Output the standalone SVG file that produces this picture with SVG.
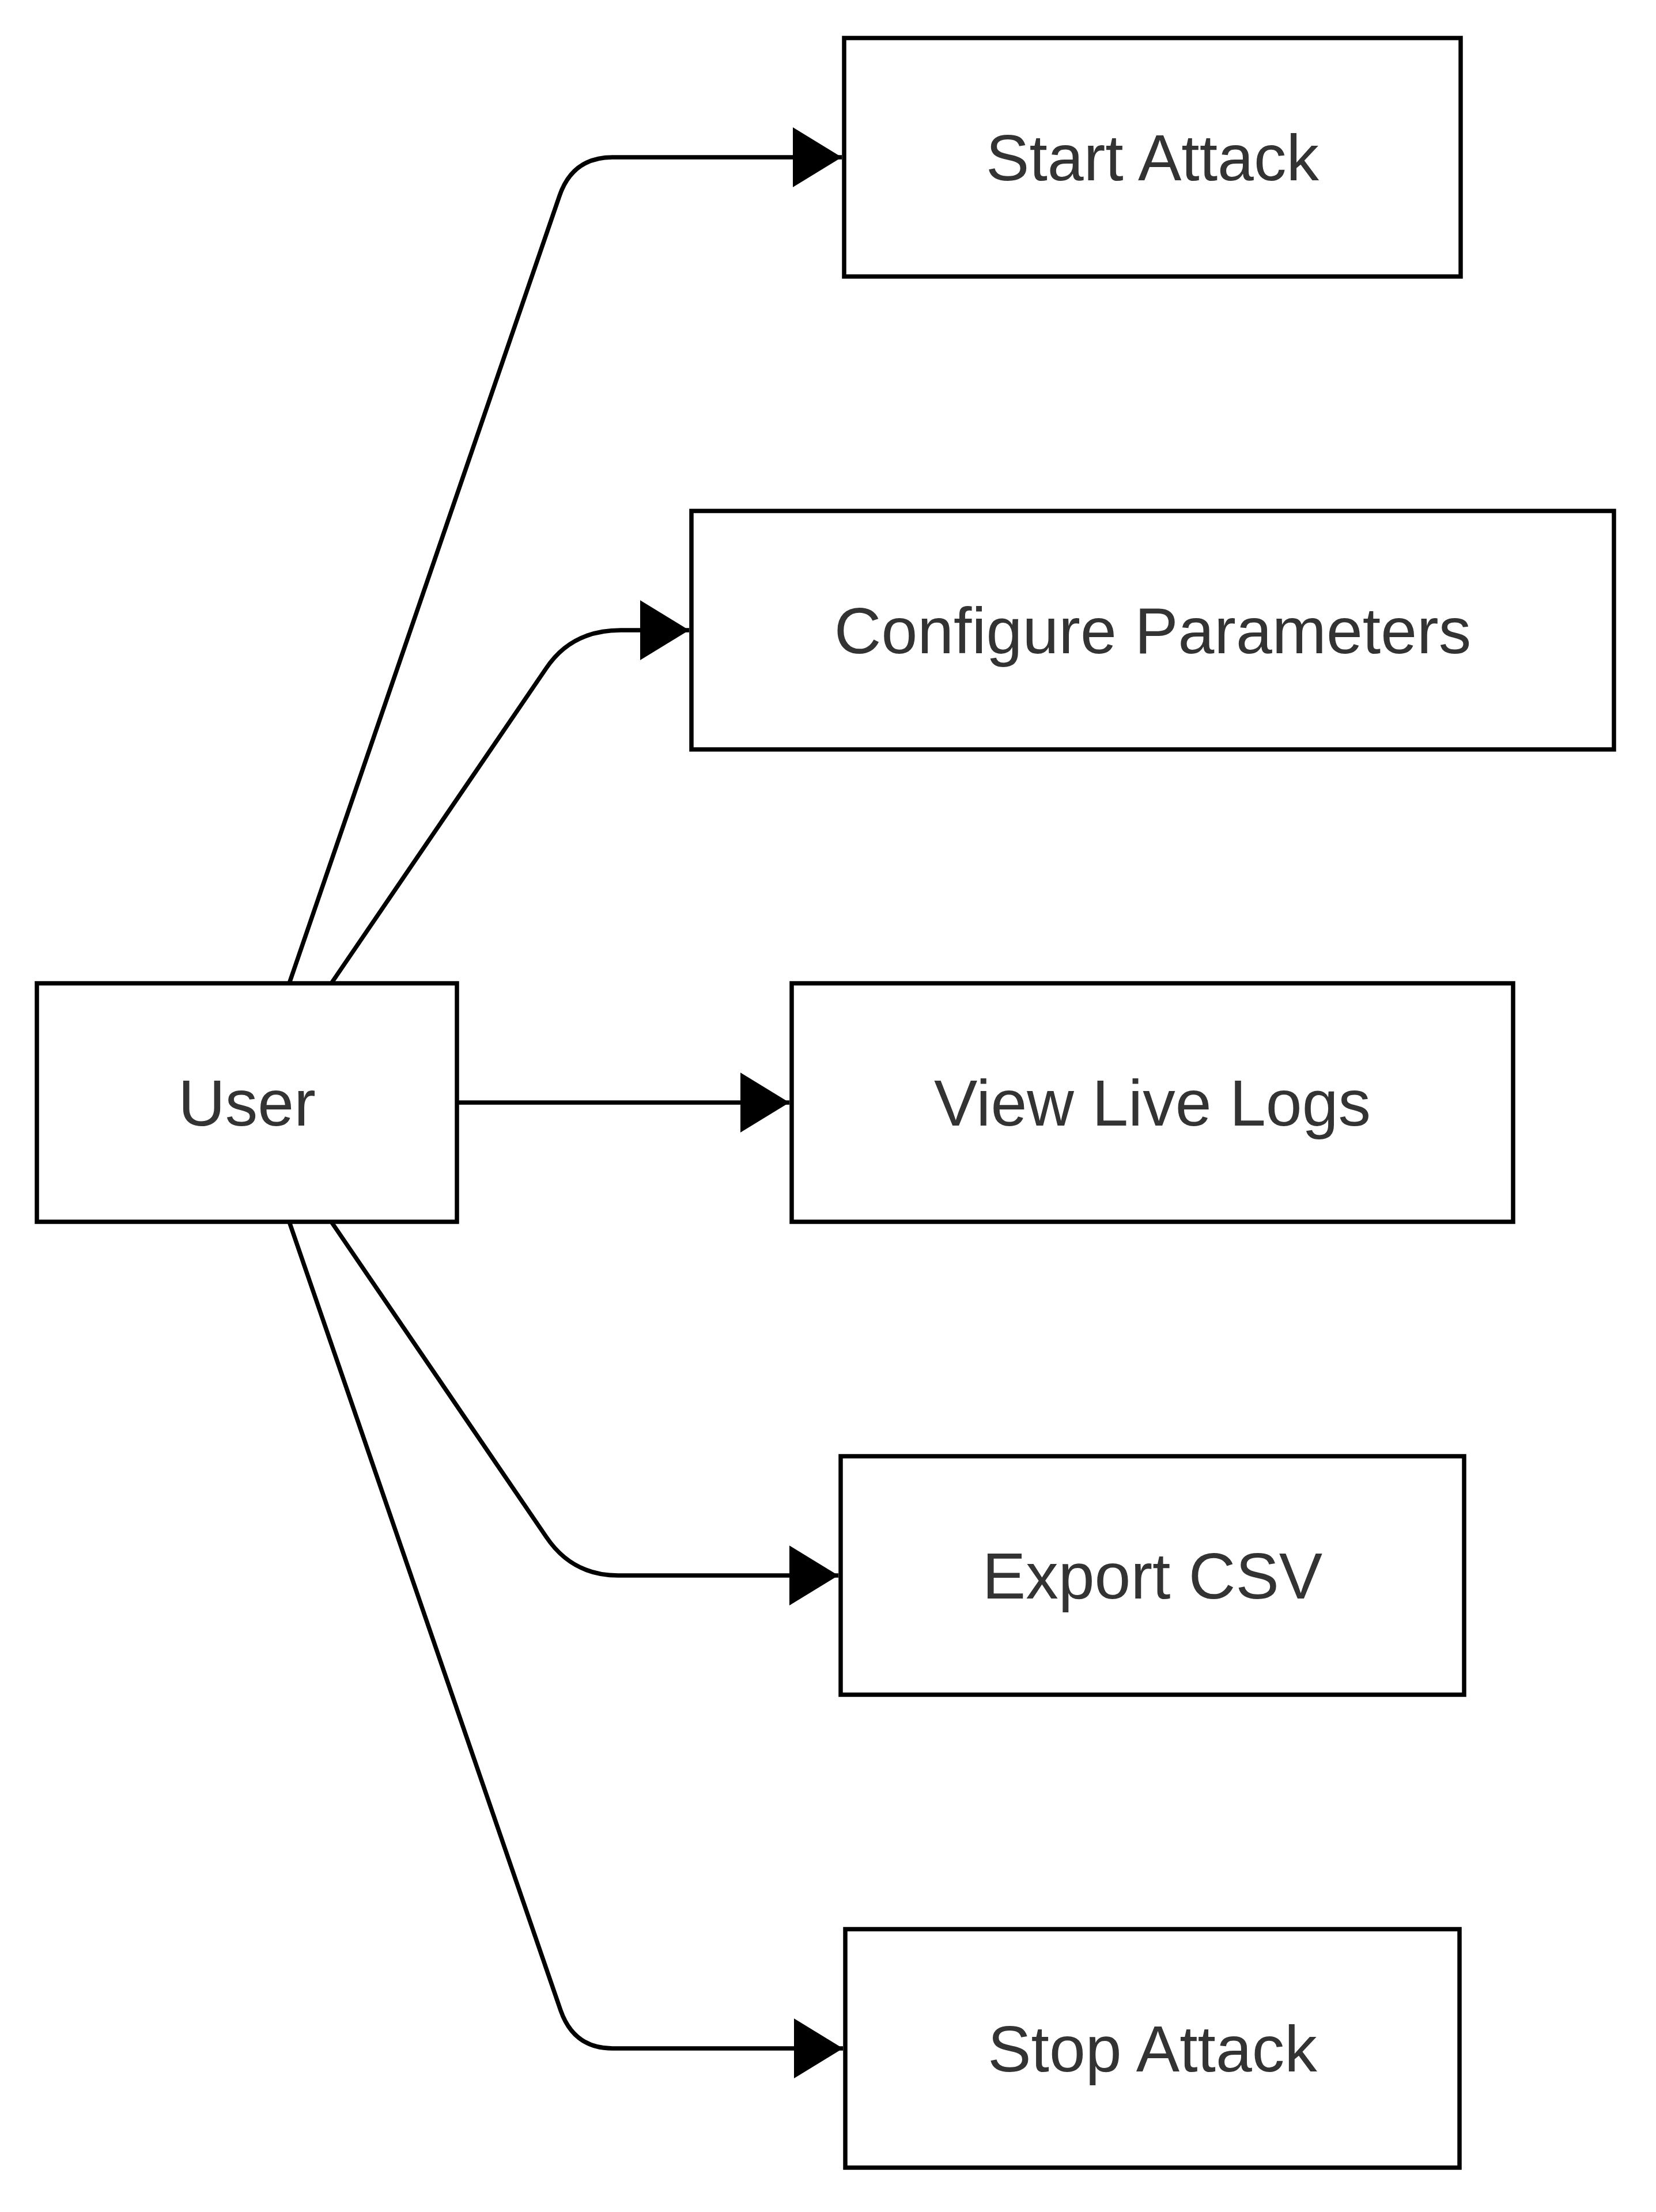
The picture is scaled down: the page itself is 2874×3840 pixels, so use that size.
<svg xmlns="http://www.w3.org/2000/svg" width="2874" height="3840" viewBox="0 0 2874 3840">
  <style>
    .node rect { fill: #ffffff; stroke: #000000; stroke-width: 7.5; }
    .node text { font-family: "Liberation Sans", Arial, sans-serif; font-size: 113px; fill: #333333; text-anchor: middle; }
    .edge { fill: none; stroke: #000000; stroke-width: 7.5; marker-end: url(#arrow); }
  </style>
  <defs>
    <marker id="arrow" markerUnits="userSpaceOnUse" viewBox="0 0 85 104" markerWidth="85" markerHeight="104" refX="85" refY="52" orient="auto">
      <path d="M0,0 L85,52 L0,104 z" fill="#000000"/>
    </marker>
  </defs>
  <rect width="2874" height="3840" fill="#ffffff"/>
  <g id="connectors">
    <path class="edge" d="M502,1707 L971,340 Q994,273 1063,273 L1461,273"/>
    <path class="edge" d="M575,1707 L948,1160 Q992,1094 1077,1094 L1196,1094"/>
    <path class="edge" d="M793,1914 L1370,1914"/>
    <path class="edge" d="M575,2121 L948,2668 Q993,2735 1073,2735 L1455,2735"/>
    <path class="edge" d="M502,2121 L973,3490 Q996,3556 1063,3556 L1463,3556"/>
  </g>
  <g id="user" class="node">
    <rect x="64" y="1707" width="729" height="414"/>
    <text x="428.5" y="1954">User</text>
  </g>
  <g id="start-attack" class="node">
    <rect x="1465" y="66" width="1070" height="414"/>
    <text x="2000" y="313">Start Attack</text>
  </g>
  <g id="configure-parameters" class="node">
    <rect x="1200" y="887" width="1601" height="414"/>
    <text x="2000.5" y="1134">Configure Parameters</text>
  </g>
  <g id="view-live-logs" class="node">
    <rect x="1374" y="1707" width="1252" height="414"/>
    <text x="2000" y="1954">View Live Logs</text>
  </g>
  <g id="export-csv" class="node">
    <rect x="1459" y="2528" width="1082" height="414"/>
    <text x="2000" y="2775">Export CSV</text>
  </g>
  <g id="stop-attack" class="node">
    <rect x="1467" y="3349" width="1066" height="414"/>
    <text x="2000" y="3596">Stop Attack</text>
  </g>
</svg>
